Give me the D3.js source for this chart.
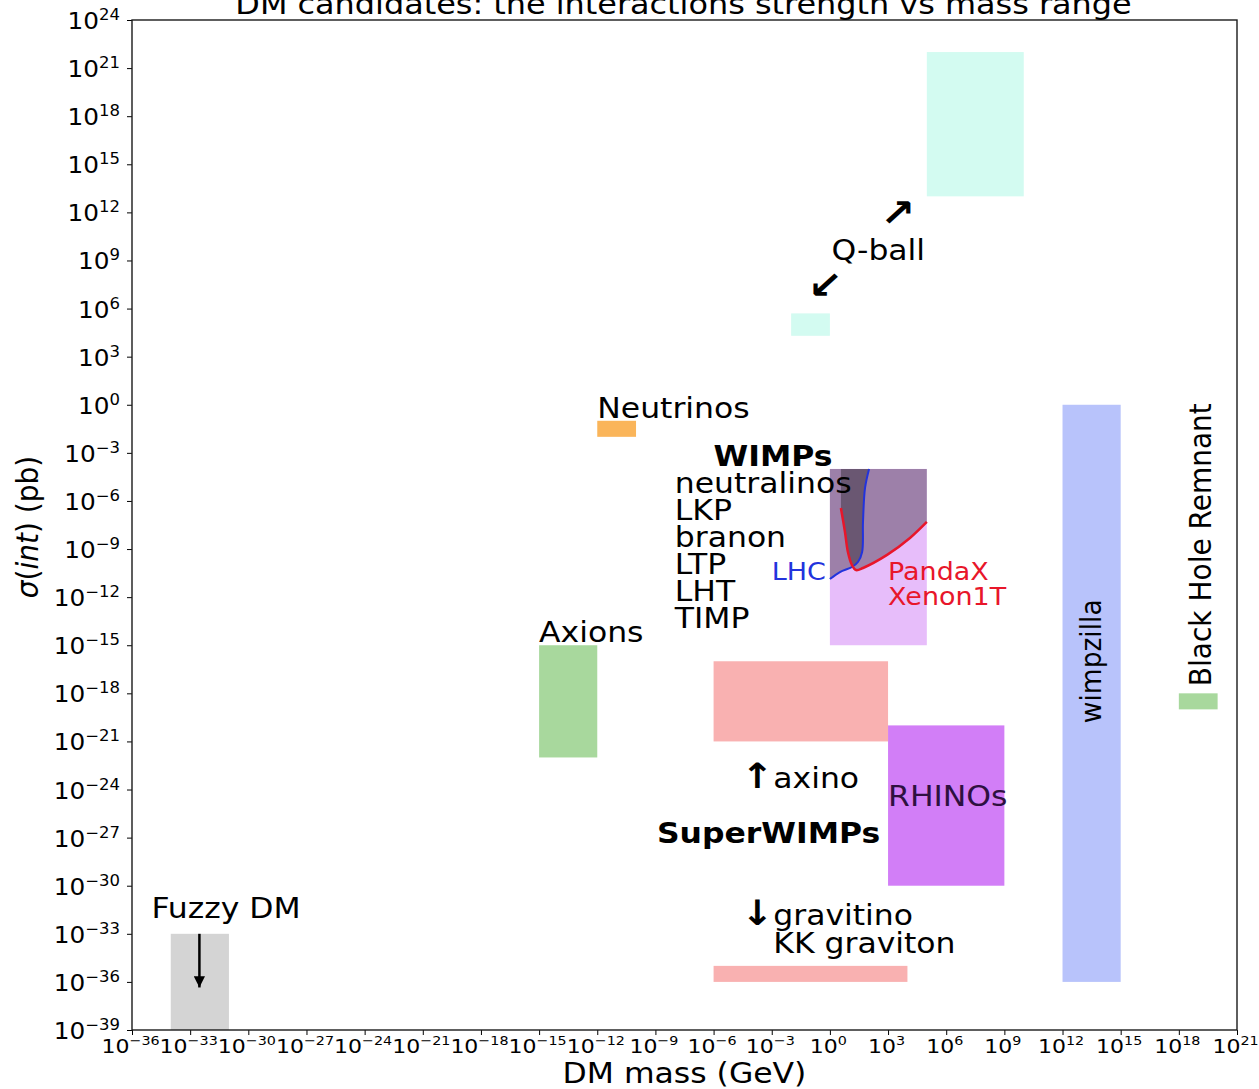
<!DOCTYPE html>
<html>
<head>
<meta charset="utf-8">
<script src="https://cdn.jsdelivr.net/npm/d3@7"></script>
<style>
  body { margin: 0; background: #fff; }
  svg { display: block; }
  text { font-family: "DejaVu Sans", sans-serif; fill: #000; }
</style>
</head>
<body>
<svg id="chart" width="1259" height="1089"></svg>
<script>
// ---- Data: dark-matter candidate regions (mass in GeV, cross-section in pb) ----
const regionNames = ["Fuzzy DM", "Axions", "Neutrinos", "Q-ball light", "Q-ball heavy",
  "WIMPs", "SuperWIMPs axino", "SuperWIMPs gravitino", "RHINOs", "wimpzilla", "Black Hole Remnant"];
const massMin  = [1e-34, 1e-15, 1e-12, 1e-2, 1e5, 1e0, 1e-6, 1e-6, 1e3, 1e12, 1e18];
const massMax  = [1e-31, 1e-12, 1e-10, 1e0, 1e10, 1e5, 1e3, 1e4, 1e9, 1e15, 1e20];
const sigmaMin = [1e-39, 1e-22, 1e-2, 2e4, 1e13, 1e-15, 1e-21, 1e-36, 1e-30, 1e-36, 1e-19];
const sigmaMax = [1e-33, 1e-15, 1e-1, 5e5, 1e22, 1e-4, 1e-16, 1e-35, 1e-20, 1e0, 1e-18];

// Exclusion limits inside the WIMP box
const lhcMass   = [1, 3.3, 13.8, 28, 46, 51, 65, 105];
const lhcSigma  = [1.35e-11, 3.7e-11, 7.6e-11, 1.55e-10, 6.6e-10, 4.9e-8, 6.5e-6, 1e-4];
const xenonMass  = [3.7, 6.0, 8.5, 13.8, 22.4, 51, 890, 13500, 1e5];
const xenonSigma = [3.6e-7, 1.15e-8, 6.6e-10, 1e-10, 4.9e-11, 6.6e-11, 4.3e-10, 4.9e-9, 4.9e-8];
const limitTop = 1e-4;

// Fuzzy DM downward arrow
const fuzzyArrowMass = 3e-33;
const fuzzyArrowSigma = [1e-33, 4.5e-37];

// Tick exponents
const massTickExps  = [-36, -33, -30, -27, -24, -21, -18, -15, -12, -9, -6, -3, 0, 3, 6, 9, 12, 15, 18, 21];
const sigmaTickExps = [-39, -36, -33, -30, -27, -24, -21, -18, -15, -12, -9, -6, -3, 0, 3, 6, 9, 12, 15, 18, 21, 24];

// Annotations (anchored in data coordinates)
const labelText  = ["Fuzzy DM", "Neutrinos", "Axions", "Q-ball", "↗", "↙", "WIMPs",
  "neutralinos", "LKP", "branon", "LTP", "LHT", "TIMP", "LHC", "PandaX", "Xenon1T",
  "↑axino", "SuperWIMPs", "RHINOs", "↓gravitino", "KK graviton", "wimpzilla", "Black Hole Remnant"];
const labelMass  = [1e-35, 1e-12, 1e-15, 1.2, 410, 0.072, 1e-6,
  1e-8, 1e-8, 1e-8, 1e-8, 1e-8, 1e-8, 1e-3, 1e3, 1e3,
  2.6e-5, 1.2e-9, 1e3, 2.6e-5, 1.2e-3, 1e14, 4.5e19];
const labelSigma = [1e-32, 0.15, 1.7e-15, 1e9, 1.4e11, 4.6e6, 1.5e-4,
  3.2e-6, 6.5e-8, 1.35e-9, 2.75e-11, 5.75e-13, 1.17e-14, 1.2e-11, 1.2e-11, 3.2e-13,
  1.26e-24, 4.6e-28, 1e-25, 3.5e-33, 6.3e-35, 1e-16, 2.8e-18];

// ---- Styles ----
const regionColor = {
  "Fuzzy DM": "#d4d4d4", "Axions": "#a8d89d", "Neutrinos": "#fab55a",
  "Q-ball light": "#d3fbf1", "Q-ball heavy": "#d3fbf1", "WIMPs": "#e7bdfa",
  "SuperWIMPs axino": "#f9b1b1", "SuperWIMPs gravitino": "#f9b1b1",
  "RHINOs": "#d27ef7", "wimpzilla": "#b8c3fb", "Black Hole Remnant": "#a8d89d"
};
const labelStyle = {
  "↗": { size: 38, weight: "bold" },
  "↙": { size: 38, weight: "bold" },
  "WIMPs": { weight: "bold" },
  "SuperWIMPs": { weight: "bold" },
  "LHC": { size: 24.5, fill: "#2233dd" },
  "PandaX": { size: 24.5, fill: "#e8162a" },
  "Xenon1T": { size: 24.5, fill: "#e8162a" },
  "RHINOs": { fill: "#2e1040" },
  "wimpzilla": { size: 26.5, rotate: -90, anchor: "middle" },
  "Black Hole Remnant": { size: 28, rotate: -90 }
};
const SX = 1.1;            // horizontal stretch applied to all text
const LABEL_SIZE = 28.6;
const LEAD_ARROW_SIZE = 35; // size of a leading ↑/↓ glyph in a label

// ---- Layout ----
const plot = { left: 132, right: 1237, top: 20, bottom: 1030 };
const svg = d3.select("#chart");

const x = d3.scaleLog().domain([1e-36, 1e21]).range([plot.left, plot.right]);
const y = d3.scaleLog().domain([1e-39, 1e24]).range([plot.bottom, plot.top]);

const defs = svg.append("defs");
defs.append("clipPath").attr("id", "plotClip")
  .append("rect")
  .attr("x", plot.left).attr("y", plot.top)
  .attr("width", plot.right - plot.left).attr("height", plot.bottom - plot.top);

const body = svg.append("g").attr("clip-path", "url(#plotClip)");

// Candidate regions
body.selectAll("rect.region")
  .data(regionNames)
  .join("rect")
  .attr("class", "region")
  .attr("x", (d, i) => x(massMin[i]))
  .attr("y", (d, i) => y(sigmaMax[i]))
  .attr("width", (d, i) => x(massMax[i]) - x(massMin[i]))
  .attr("height", (d, i) => y(sigmaMin[i]) - y(sigmaMax[i]))
  .attr("fill", d => regionColor[d]);

// Excluded areas above the LHC and direct-detection limits
const lhcPts = lhcMass.map((m, i) => [m, lhcSigma[i]]);
const xenonPts = xenonMass.map((m, i) => [m, xenonSigma[i]]);
const curve = d3.curveCatmullRom.alpha(0.5);
const excl = d3.area().x(d => x(d[0])).y0(y(limitTop)).y1(d => y(d[1])).curve(curve);
const lim = d3.line().x(d => x(d[0])).y(d => y(d[1])).curve(curve);

body.append("path").attr("d", excl(xenonPts)).attr("fill", "#000").attr("fill-opacity", 0.32);
body.append("path").attr("d", excl(lhcPts)).attr("fill", "#000").attr("fill-opacity", 0.32);
body.append("path").attr("d", lim(lhcPts)).attr("fill", "none")
  .attr("stroke", "#2233dd").attr("stroke-width", 2);
body.append("path").attr("d", lim(xenonPts)).attr("fill", "none")
  .attr("stroke", "#e8162a").attr("stroke-width", 2.5);

// Fuzzy DM arrow
defs.append("marker")
  .attr("id", "head").attr("viewBox", "0 0 10 10")
  .attr("refX", 10).attr("refY", 5)
  .attr("markerWidth", 4.5).attr("markerHeight", 4.5)
  .attr("markerUnits", "strokeWidth")
  .attr("orient", "auto")
  .append("path").attr("d", "M0,0 L10,5 L0,10 Z").attr("fill", "#000");
body.append("line")
  .attr("x1", x(fuzzyArrowMass)).attr("x2", x(fuzzyArrowMass))
  .attr("y1", y(fuzzyArrowSigma[0])).attr("y2", y(fuzzyArrowSigma[1]))
  .attr("stroke", "#000").attr("stroke-width", 2.5)
  .attr("marker-end", "url(#head)");

// Annotations
const labels = svg.append("g");
labelText.forEach((t, i) => {
  const st = labelStyle[t] || {};
  const px = x(labelMass[i]), py = y(labelSigma[i]);
  const el = labels.append("text")
    .attr("transform", `translate(${px},${py}) scale(${SX},1)` + (st.rotate ? ` rotate(${st.rotate})` : ""))
    .attr("font-size", st.size || LABEL_SIZE)
    .attr("font-weight", st.weight || "normal")
    .attr("text-anchor", st.anchor || "start")
    .style("fill", st.fill || "#000");
  if (t.length > 1 && (t[0] === "↑" || t[0] === "↓")) {
    el.append("tspan").attr("font-size", LEAD_ARROW_SIZE).attr("font-weight", "bold").text(t[0]);
    el.append("tspan").text(t.slice(1));
  } else {
    el.text(t);
  }
});

// ---- Axes ----
const supText = e => (e < 0 ? "\u2212" + Math.abs(e) : String(e));

const xAxis = d3.axisBottom(x)
  .tickValues(massTickExps.map(e => Math.pow(10, e)))
  .tickSize(5).tickSizeOuter(0);
const gx = svg.append("g").attr("transform", `translate(0,${plot.bottom})`).call(xAxis);
gx.select(".domain").remove();
gx.selectAll(".tick line").attr("stroke", "#000").attr("stroke-width", 1);
gx.selectAll(".tick text").each(function (d, i) {
  const t = d3.select(this);
  t.text(null).attr("y", null).attr("dy", null)
    .attr("transform", `translate(-2,23) scale(${SX},1)`)
    .attr("text-anchor", "middle")
    .attr("font-family", "DejaVu Sans").attr("font-size", 20).style("fill", "#000");
  t.append("tspan").text("10");
  t.append("tspan").attr("font-size", 13).attr("dy", -8).text(supText(massTickExps[i]));
});

const yAxis = d3.axisLeft(y)
  .tickValues(sigmaTickExps.map(e => Math.pow(10, e)))
  .tickSize(5).tickSizeOuter(0);
const gy = svg.append("g").attr("transform", `translate(${plot.left},0)`).call(yAxis);
gy.select(".domain").remove();
gy.selectAll(".tick line").attr("stroke", "#000").attr("stroke-width", 1);
gy.selectAll(".tick text").each(function (d, i) {
  const t = d3.select(this);
  t.text(null).attr("x", null).attr("dy", null)
    .attr("transform", `translate(-12,8.5) scale(${SX},1)`)
    .attr("text-anchor", "end")
    .attr("font-family", "DejaVu Sans").attr("font-size", 22.5).style("fill", "#000");
  t.append("tspan").text("10");
  t.append("tspan").attr("font-size", 15).attr("dy", -9).text(supText(sigmaTickExps[i]));
});

// Frame
svg.append("rect")
  .attr("x", plot.left).attr("y", plot.top)
  .attr("width", plot.right - plot.left).attr("height", plot.bottom - plot.top)
  .attr("fill", "none").attr("stroke", "#1a1a1a").attr("stroke-width", 1.4);

// Axis titles and chart title
const cx = (plot.left + plot.right) / 2;
svg.append("text")
  .attr("transform", `translate(${cx},1083) scale(${SX},1)`)
  .attr("text-anchor", "middle").attr("font-size", 28.6)
  .text("DM mass (GeV)");

const yl = svg.append("text")
  .attr("transform", `translate(38,527) scale(${SX},1) rotate(-90)`)
  .attr("text-anchor", "middle").attr("font-size", 28);
yl.append("tspan").attr("font-style", "italic").text("σ");
yl.append("tspan").text("(");
yl.append("tspan").attr("font-style", "italic").text("int");
yl.append("tspan").text(") (pb)");

svg.append("text")
  .attr("transform", `translate(${cx - 1},14) scale(${SX},1)`)
  .attr("text-anchor", "middle").attr("font-size", 29)
  .text("DM candidates: the interactions strength vs mass range");
</script>
</body>
</html>
